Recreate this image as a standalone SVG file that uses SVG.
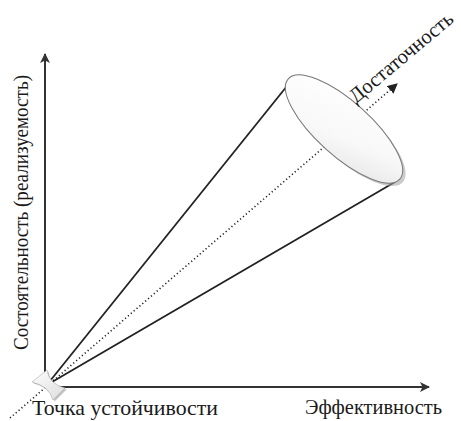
<svg xmlns="http://www.w3.org/2000/svg" width="461" height="421" viewBox="0 0 461 421">
<style>
.lbl{font-family:"Liberation Serif","Times New Roman",serif;font-size:21px;fill:#1a1a1a}
.ax{stroke:#333;stroke-width:2;fill:none}
.cone{stroke:#222;stroke-width:1.8;fill:none}
.dot{stroke:#222;stroke-width:1.6;stroke-dasharray:1.2 2.6;fill:none}
</style>
<defs>
<marker id="ah" viewBox="0 0 10 10" refX="9" refY="5" markerWidth="10" markerHeight="10" markerUnits="userSpaceOnUse" orient="auto">
<path d="M0,0 L10,5 L0,10 L2.5,5 Z" fill="#333"/>
</marker>
<marker id="ah2" viewBox="0 0 10 10" refX="9" refY="5" markerWidth="10" markerHeight="10" markerUnits="userSpaceOnUse" orient="auto">
<path d="M0,0 L10,5 L0,10 Z" fill="#222"/>
</marker>
<linearGradient id="eg" x1="0" y1="0" x2="1" y2="1">
<stop offset="0" stop-color="#ffffff"/>
<stop offset="0.6" stop-color="#f8f8f8"/>
<stop offset="1" stop-color="#e4e4e4"/>
</linearGradient>
<linearGradient id="bg" x1="0" y1="0" x2="1" y2="1">
<stop offset="0" stop-color="#ffffff"/>
<stop offset="1" stop-color="#dcdcdc"/>
</linearGradient>
</defs>
<g id="connectors">
<line class="ax" x1="45" y1="387" x2="45" y2="54" marker-end="url(#ah)"/>
<line class="ax" x1="45" y1="387" x2="429" y2="387" marker-end="url(#ah)"/>
<line class="dot" x1="10" y1="418" x2="397" y2="84" marker-end="url(#ah2)"/>
<line class="cone" x1="50" y1="381" x2="287" y2="86"/>
<line class="cone" x1="52" y1="382" x2="395" y2="182"/>
</g>
<g id="cone-end">
<ellipse cx="347" cy="132" rx="75" ry="27" transform="rotate(42 347 132)" fill="#a0a0a0" opacity="0.55"/>
<ellipse cx="344" cy="129" rx="75" ry="27" transform="rotate(42 344 129)" fill="url(#eg)" stroke="#777" stroke-width="1"/>
</g>
<g id="origin">
<path d="M32,382 L47,370 Q49,384 65,388 L53,400 Q49,386 32,382 Z" fill="#999" opacity="0.6" transform="translate(1.5,1.5)"/>
<path d="M32,382 L47,370 Q49,384 65,388 L53,400 Q49,386 32,382 Z" fill="url(#bg)" stroke="#aaa" stroke-width="0.6"/>
</g>
<g id="labels">
<text class="lbl" x="32" y="415" textLength="186" lengthAdjust="spacingAndGlyphs">Точка устойчивости</text>
<text class="lbl" x="305" y="414" textLength="137" lengthAdjust="spacingAndGlyphs">Эффективность</text>
<text class="lbl" transform="translate(28,350) rotate(-90)" textLength="275" lengthAdjust="spacingAndGlyphs">Состоятельность (реализуемость)</text>
<text class="lbl" transform="translate(356,104) rotate(-40)" textLength="129" lengthAdjust="spacingAndGlyphs">Достаточность</text>
</g>
</svg>
